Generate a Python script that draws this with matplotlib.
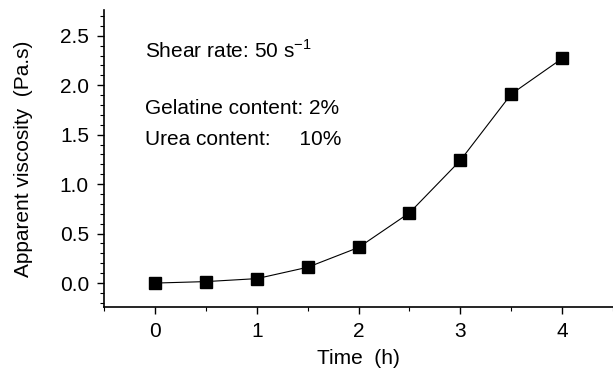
import numpy as np
import matplotlib
matplotlib.use("Agg")
import matplotlib.pyplot as plt
from matplotlib.ticker import MultipleLocator

plt.rcParams['font.family'] = ['Liberation Sans', 'DejaVu Sans']

# data
time_h = [0, 0.5, 1.0, 1.5, 2.0, 2.5, 3.0, 3.5, 4.0]
viscosity = [0.0, 0.015, 0.045, 0.16, 0.36, 0.71, 1.24, 1.91, 2.27]
x_ticks = [0, 1, 2, 3, 4]
y_ticks = [0.0, 0.5, 1.0, 1.5, 2.0, 2.5]

fig = plt.figure(figsize=(6.13, 3.71), dpi=100)
ax = fig.add_axes([0.170, 0.173, 0.830, 0.800])

ax.plot(time_h, viscosity, color='black', lw=0.8, marker='s', ms=8,
        mfc='black', mec='black')

ax.set_xlim(-0.5, 4.5)
ax.set_ylim(-0.24, 2.76)
ax.set_xticks(x_ticks)
ax.set_yticks(y_ticks)
ax.set_yticklabels(['%.1f' % v for v in y_ticks])
ax.xaxis.set_minor_locator(MultipleLocator(0.5))
ax.yaxis.set_minor_locator(MultipleLocator(0.1))

ax.spines['top'].set_visible(False)
ax.spines['right'].set_visible(False)
ax.spines['left'].set_linewidth(1.2)
ax.spines['bottom'].set_linewidth(1.2)

ax.tick_params(which='major', direction='out', length=5, width=1, labelsize=15, pad=6)
ax.tick_params(which='minor', direction='out', length=3, width=0.8)

ax.set_xlabel('Time  (h)', fontsize=15, labelpad=6)
ax.set_ylabel('Apparent viscosity  (Pa.s)', fontsize=15, labelpad=19)

ax.text(-0.1, 2.28, 'Shear rate: 50 s$^{\\mathregular{-1}}$', fontsize=15, va='baseline')
ax.text(-0.1, 1.71, 'Gelatine content: 2%', fontsize=15, va='baseline')
ax.text(-0.1, 1.40, 'Urea content:     10%', fontsize=15, va='baseline')

fig.savefig('out.png', dpi=100)
